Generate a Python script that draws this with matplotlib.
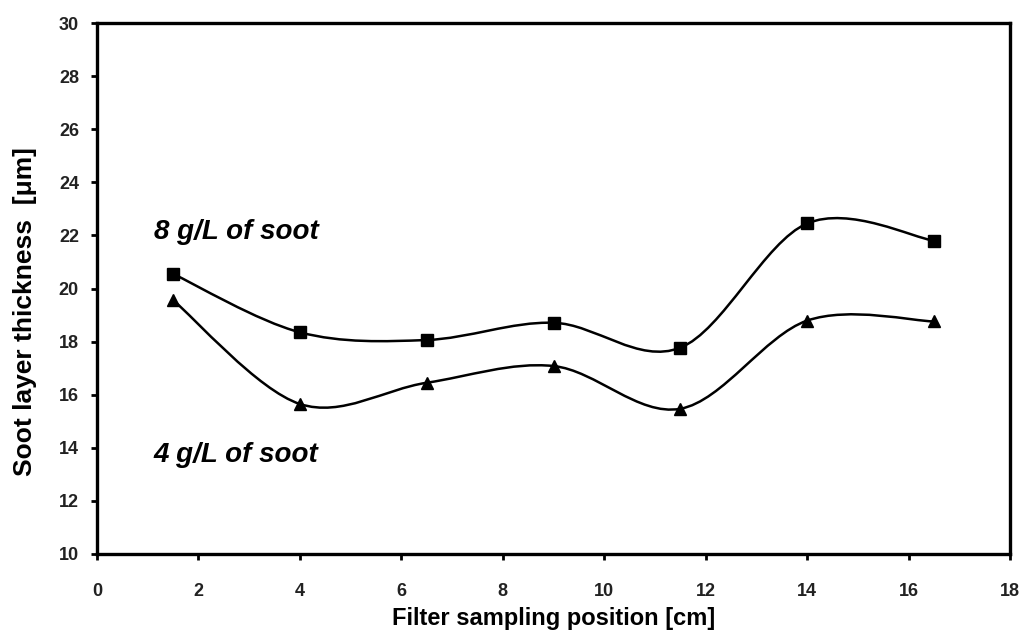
import matplotlib
matplotlib.use("Agg")
import matplotlib.pyplot as plt
from matplotlib.path import Path
from matplotlib.patches import PathPatch
import numpy as np

positions = [1.5, 4, 6.5, 9, 11.5, 14, 16.5]
soot_8 = [20.55, 18.35, 18.06, 18.71, 17.77, 22.45, 21.8]
soot_4 = [19.56, 15.65, 16.45, 17.08, 15.47, 18.79, 18.76]
x_ticks = [0, 2, 4, 6, 8, 10, 12, 14, 16, 18]
y_ticks = [10, 12, 14, 16, 18, 20, 22, 24, 26, 28, 30]

plt.rcParams['font.family'] = ['Liberation Sans', 'DejaVu Sans']

fig = plt.figure(figsize=(10.25, 6.44), dpi=100)
ax = fig.add_axes([97/1025, 1 - 554/644, (1010-97)/1025, (554-23)/644])


def smooth_path(xs, ys):
    p = np.column_stack([xs, ys]).astype(float)
    n = len(p)
    verts = [p[0]]
    codes = [Path.MOVETO]
    for i in range(n - 1):
        p0 = p[i - 1] if i > 0 else p[i]
        p1 = p[i]
        p2 = p[i + 1]
        p3 = p[i + 2] if i + 2 < n else p[i + 1]
        c1 = p1 + (p2 - p0) / 6.0
        c2 = p2 - (p3 - p1) / 6.0
        verts += [c1, c2, p2]
        codes += [Path.CURVE4] * 3
    return Path(verts, codes)


for ys, mk, ms in [(soot_8, 's', 9), (soot_4, '^', 8)]:
    ax.add_patch(PathPatch(smooth_path(positions, ys), facecolor='none',
                           edgecolor='black', lw=1.8))
    ax.plot(positions, ys, linestyle='none', marker=mk, markersize=ms,
            color='black')

ax.set_xlim(0, 18)
ax.set_ylim(10, 30)
ax.set_xticks(x_ticks)
ax.set_yticks(y_ticks)
for s in ax.spines.values():
    s.set_linewidth(2.4)
ax.tick_params(direction='out', length=4, width=2, labelsize=13)
ax.tick_params(axis='x', pad=17)
ax.tick_params(axis='y', pad=9)
for lab in ax.get_xticklabels() + ax.get_yticklabels():
    lab.set_fontweight('bold')
    lab.set_color('#222222')

ax.set_xlabel('Filter sampling position [cm]', fontsize=17, fontweight='bold',
              va='center')
ax.xaxis.set_label_coords(0.5, -0.122)
ax.set_ylabel('Soot layer thickness  [μm]', fontsize=19, fontweight='bold',
              va='center')
ax.yaxis.set_label_coords(-0.079, 0.456)

ax.text(1.12, 22.13, '8 g/L of soot', fontsize=20, fontweight='bold',
        fontstyle='italic', va='center', ha='left')
ax.text(1.12, 13.73, '4 g/L of soot', fontsize=20, fontweight='bold',
        fontstyle='italic', va='center', ha='left')

fig.savefig('out.png', dpi=100)
